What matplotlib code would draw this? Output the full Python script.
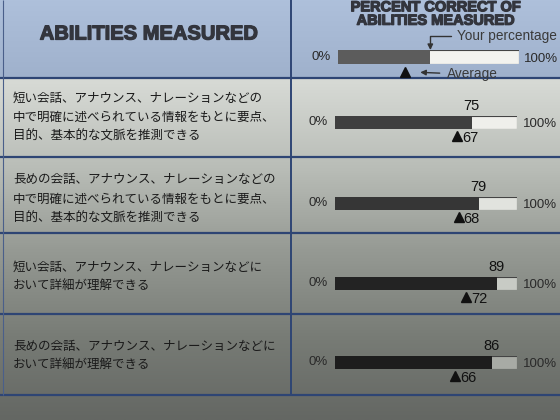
import numpy as np
import matplotlib.pyplot as plt
import matplotlib.patheffects as pe
from matplotlib.colors import LinearSegmentedColormap

plt.rcParams['font.family'] = ['Liberation Sans', 'Noto Sans CJK JP', 'DejaVu Sans']

# --- data ---
abilities = [
    "短い会話、アナウンス、ナレーションなどの\n中で明確に述べられている情報をもとに要点、\n目的、基本的な文脈を推測できる",
    "長めの会話、アナウンス、ナレーションなどの\n中で明確に述べられている情報をもとに要点、\n目的、基本的な文脈を推測できる",
    "短い会話、アナウンス、ナレーションなどに\nおいて詳細が理解できる",
    "長めの会話、アナウンス、ナレーションなどに\nおいて詳細が理解できる",
]
your_pct = [75, 79, 89, 86]
avg_pct = [67, 68, 72, 66]
legend_you = 51
legend_avg = 37

# --- layout (pixels) ---
W, H = 560, 420
row_lines = [78, 157, 233, 314, 395]
text_y = [117, 199, 277, 356]
bar_y = [122, 203, 283, 362]
bar_left, bar_w, bar_h = 335, 182, 13
dark_cols = ['#3f3f3f', '#363636', '#232323', '#1d1d1d']
light_cols = ['#efefeb', '#e1e3de', '#c8cbc5', '#a8aba5']

fig = plt.figure(figsize=(5.6, 4.2), dpi=100)
bg = fig.add_axes([0, 0, 1, 1])
bg.set_xlim(0, W)
bg.set_ylim(H, 0)
bg.axis('off')

paper = LinearSegmentedColormap.from_list(
    'paper', ['#e3e6e2', '#d6d9d4', '#b9bdb7', '#959993', '#787c76', '#646763'])
bg.imshow(np.linspace(0, 1, 256).reshape(-1, 1), cmap=paper,
          extent=[0, W, H, 0], aspect='auto', zorder=0)
blue = LinearSegmentedColormap.from_list('blue', ['#aec0db', '#9fb1cc'])
bg.imshow(np.linspace(0, 1, 64).reshape(-1, 1), cmap=blue,
          extent=[0, W, row_lines[0], 0], aspect='auto', zorder=1)

bg.hlines(row_lines, 0, W, color='#2e4574', lw=1.6, zorder=2)
bg.vlines(291, 0, row_lines[-1], color='#2e4574', lw=1.4, zorder=2)
bg.vlines(3, 0, row_lines[-1], color='#4a5f8a', lw=0.8, zorder=2)

heavy = [pe.withStroke(linewidth=0.9, foreground='#33353d')]
bg.text(149, 34, 'ABILITIES MEASURED', fontsize=14.5, fontweight='bold',
        color='#33353d', ha='center', va='center', zorder=3, path_effects=heavy)
bg.text(436, 14, 'PERCENT CORRECT OF\nABILITIES MEASURED', fontsize=10.5,
        fontweight='bold', color='#33353d', ha='center', va='center',
        linespacing=0.95, zorder=3, path_effects=heavy)


def bar_axes(cx_left, width, yc, height):
    ax = fig.add_axes([cx_left / W, 1 - (yc + height / 2) / H,
                       width / W, height / H])
    ax.set_xlim(0, 100)
    ax.set_ylim(-0.5, 0.5)
    ax.axis('off')
    return ax


def draw_bar(ax, you, avg, dark, light, labels=True):
    ax.barh(0, 100, height=1, color=light, edgecolor='#444444', lw=0.8)
    ax.barh(0, you, height=1, color=dark, edgecolor='none')
    ax.plot(avg, -1.05, marker='^', ms=7, color='#111111', clip_on=False)
    ax.text(-4, 0, '0%', ha='right', va='center', fontsize=9.5, color='#2a2a2a')
    ax.text(103, -0.15, '100%', ha='left', va='center', fontsize=9.5, color='#2a2a2a')
    if labels:
        ax.annotate(str(you), xy=(you, 0.5), xytext=(0, 1.5), textcoords='offset points',
                    ha='center', va='bottom', fontsize=10.5, color='#111111',
                    annotation_clip=False)
        ax.annotate(str(avg), xy=(avg, -1.05), xytext=(3.5, -1.5), textcoords='offset points',
                    ha='left', va='center', fontsize=10.5, color='#111111',
                    annotation_clip=False)


# legend bar
lax = bar_axes(338, 181, 57, 14)
draw_bar(lax, legend_you, legend_avg, '#5c5c5c', '#f3f3ef', labels=False)
lax.annotate('Your percentage', xy=(legend_you, 0.5), xytext=(19, 10),
             textcoords='offset points', ha='left', va='center', fontsize=9.8,
             color='#3a3a3a', annotation_clip=False,
             arrowprops=dict(arrowstyle='-|>', connectionstyle='angle,angleA=0,angleB=90,rad=0',
                             color='#333333', lw=1, shrinkA=2, shrinkB=0, mutation_scale=8))
lax.annotate('Average', xy=(legend_avg, -1.05), xytext=(30, -2),
             textcoords='offset points', ha='left', va='center', fontsize=9.8,
             color='#3a3a3a', annotation_clip=False,
             arrowprops=dict(arrowstyle='-|>', color='#333333', lw=1,
                             shrinkA=3, shrinkB=11, mutation_scale=8))

# ability rows
for i, text in enumerate(abilities):
    bg.text(13, text_y[i], text, ha='left', va='center', fontsize=9.0,
            family=['Noto Sans CJK JP'], color='#1a1a1a', linespacing=1.6, zorder=3)
    ax = bar_axes(bar_left, bar_w, bar_y[i], bar_h)
    draw_bar(ax, your_pct[i], avg_pct[i], dark_cols[i], light_cols[i])

fig.savefig('out.png', dpi=100)
